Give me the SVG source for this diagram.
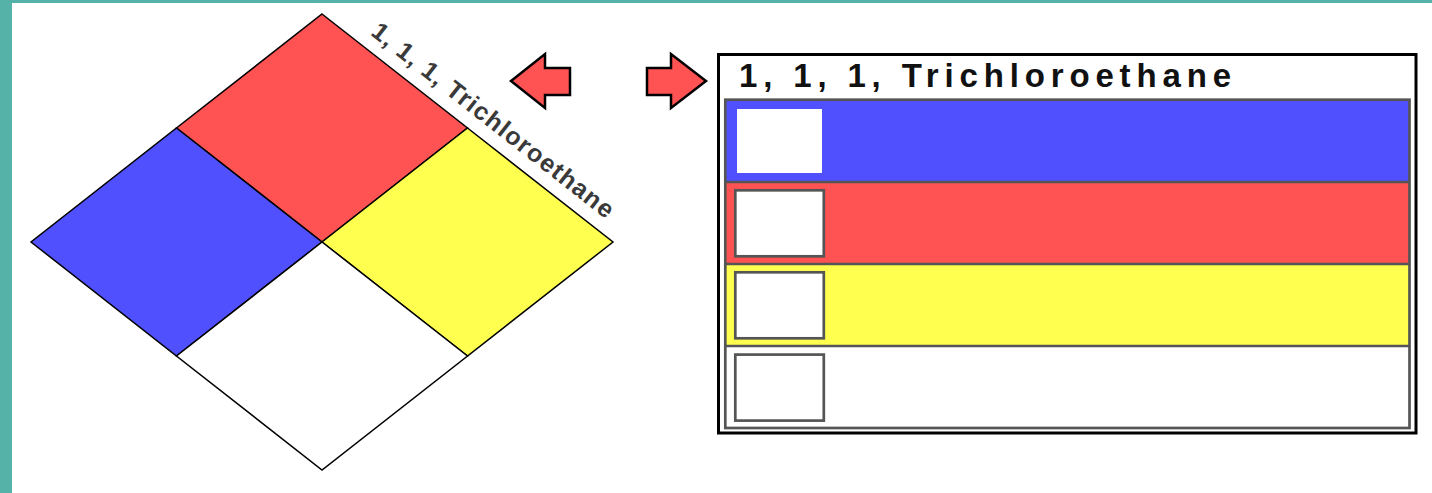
<svg xmlns="http://www.w3.org/2000/svg" width="1432" height="493" viewBox="0 0 1432 493">
<style>
.edge{stroke:#000;stroke-width:1.5;stroke-linejoin:miter}
.arrow{fill:#ff5252;stroke:#000;stroke-width:2.5;stroke-linejoin:miter}
.frame{fill:none;stroke:#555;stroke-width:2.7}
.box{fill:#fff;stroke:#555;stroke-width:2.7}
.lbl{font-family:"Liberation Sans",Arial,sans-serif;font-weight:bold}
</style>
<rect x="0" y="0" width="1432" height="493" fill="#fff"/>
<rect x="0" y="0" width="1432" height="3" fill="#55b2a8"/>
<rect x="0" y="0" width="12" height="493" fill="#55b2a8"/>
<g id="diamond">
<polygon id="q-red" class="edge" fill="#ff5252" points="322,14 467.5,128 322,242 176.5,128"/>
<polygon id="q-blue" class="edge" fill="#5050ff" points="176.5,128 322,242 176.5,356 31,242"/>
<polygon id="q-yellow" class="edge" fill="#ffff50" points="467.5,128 613,242 467.5,356 322,242"/>
<polygon id="q-white" class="edge" fill="#fff" points="322,242 467.5,356 322,470 176.5,356"/>
<text class="lbl" font-size="25" fill="#3a3a3a" transform="translate(369.7,34.2) rotate(38.08)" textLength="300" lengthAdjust="spacing">1, 1, 1,  Trichloroethane</text>
</g>
<g id="arrows">
<polygon id="arrow-left" class="arrow" points="511,81 545,54 545,68 570,68 570,95 545,95 545,108"/>
<polygon id="arrow-right" class="arrow" points="647,68 671,68 671,54 706,81 671,108 671,95 647,95"/>
</g>
<g id="panel">
<rect x="718.5" y="54.5" width="697.5" height="378.5" fill="#fff" stroke="#000" stroke-width="3"/>
<text class="lbl" x="739" y="86.5" font-size="33" fill="#111" textLength="492" lengthAdjust="spacing">1, 1, 1,  Trichloroethane</text>
<rect id="row-blue" x="725.3" y="99.7" width="684.2" height="82.3" fill="#5050ff"/>
<rect id="row-red" x="725.3" y="182" width="684.2" height="82" fill="#ff5252"/>
<rect id="row-yellow" x="725.3" y="264" width="684.2" height="82" fill="#ffff50"/>
<rect id="row-white" x="725.3" y="346" width="684.2" height="82" fill="#fff"/>
<g stroke="#555" stroke-width="2.5">
<line x1="725.3" y1="182" x2="1409.5" y2="182"/>
<line x1="725.3" y1="264" x2="1409.5" y2="264"/>
<line x1="725.3" y1="346" x2="1409.5" y2="346"/>
</g>
<rect class="frame" x="725.3" y="99.7" width="684.2" height="328.3"/>
<rect x="737" y="109" width="85" height="64" fill="#fff"/>
<rect class="box" x="735.3" y="190.3" width="88.5" height="66"/>
<rect class="box" x="735.3" y="272.3" width="88.5" height="66"/>
<rect class="box" x="735.3" y="354.6" width="88.5" height="66"/>
</g>
</svg>
